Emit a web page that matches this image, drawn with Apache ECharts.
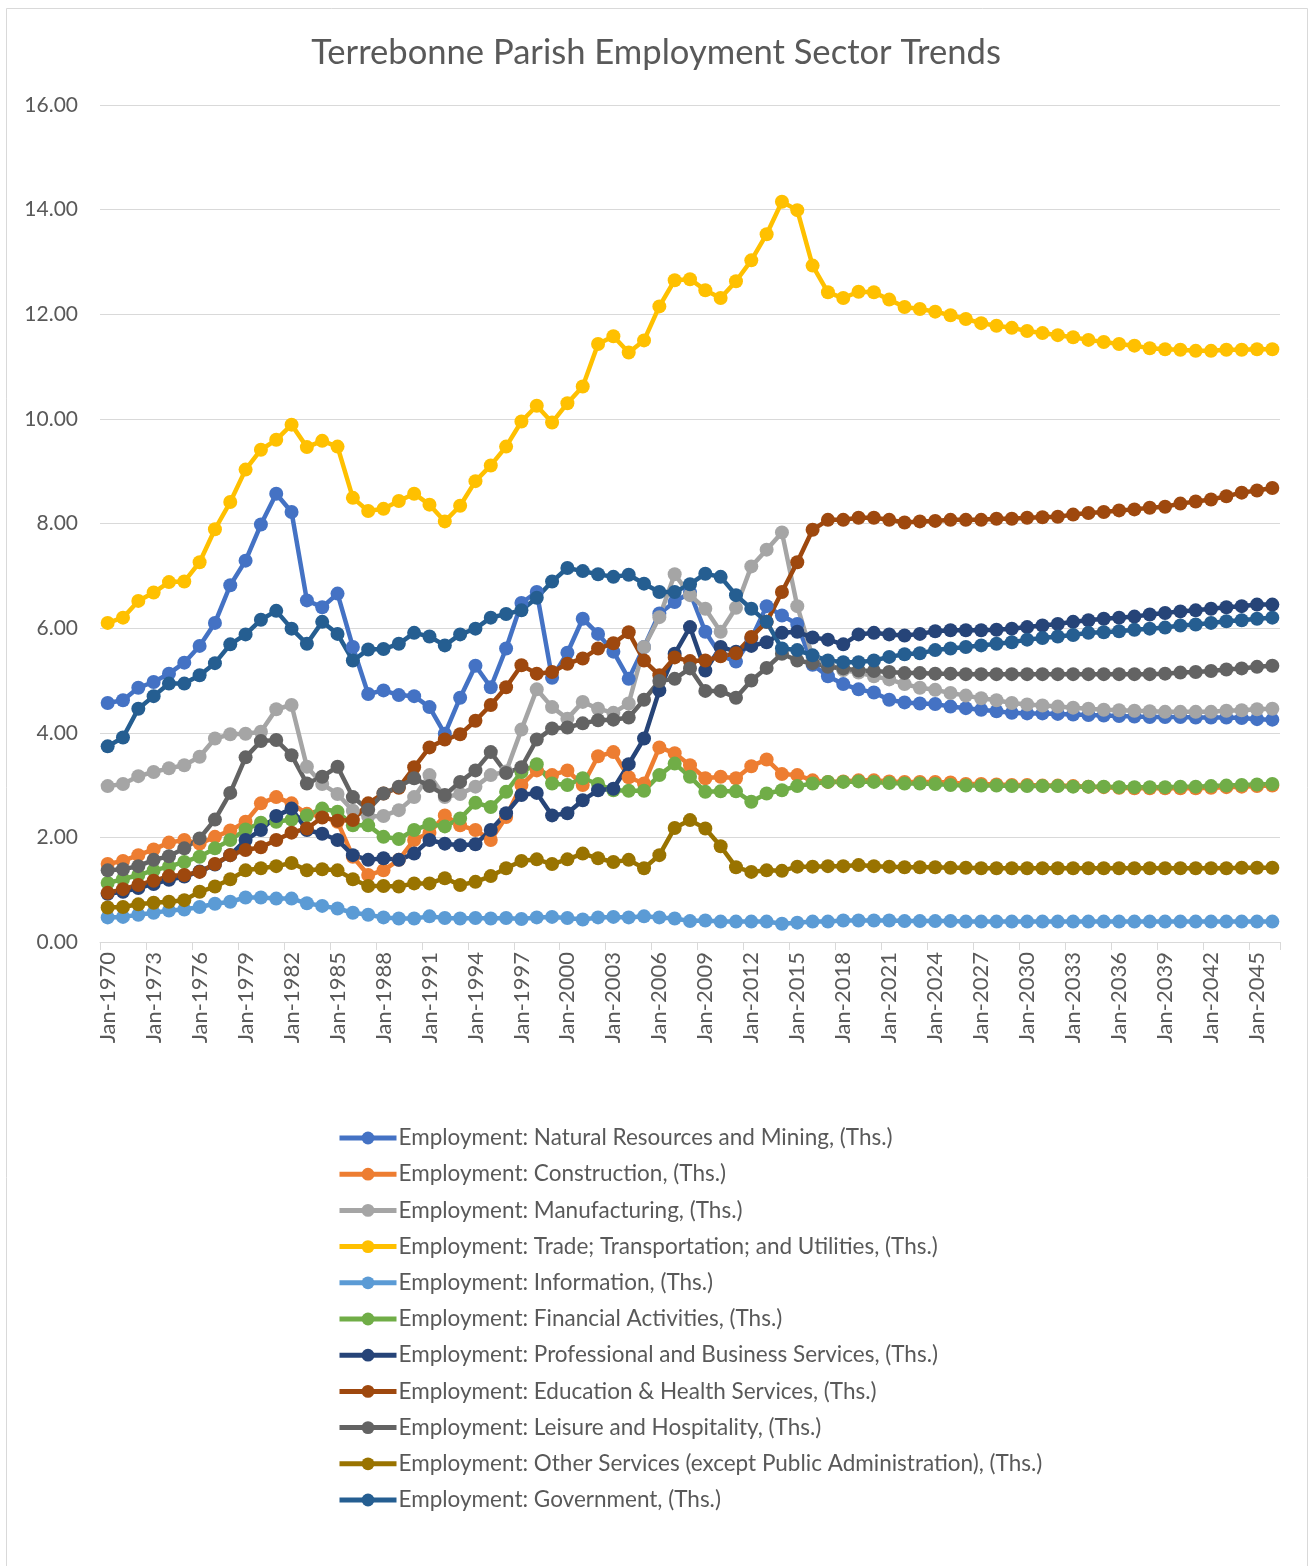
<!DOCTYPE html>
<html>
<head>
<meta charset="utf-8">
<script src="https://cdn.jsdelivr.net/npm/echarts@6/dist/echarts.min.js"></script>
<style>
html,body{margin:0;padding:0;background:#fff;}
#chart{width:1312px;height:1566px;}
</style>
</head>
<body>
<div id="chart"></div>
<script>
const categories = ['Jan-1970','Jan-1971','Jan-1972','Jan-1973','Jan-1974','Jan-1975','Jan-1976','Jan-1977','Jan-1978','Jan-1979',
'Jan-1980','Jan-1981','Jan-1982','Jan-1983','Jan-1984','Jan-1985','Jan-1986','Jan-1987','Jan-1988','Jan-1989',
'Jan-1990','Jan-1991','Jan-1992','Jan-1993','Jan-1994','Jan-1995','Jan-1996','Jan-1997','Jan-1998','Jan-1999',
'Jan-2000','Jan-2001','Jan-2002','Jan-2003','Jan-2004','Jan-2005','Jan-2006','Jan-2007','Jan-2008','Jan-2009',
'Jan-2010','Jan-2011','Jan-2012','Jan-2013','Jan-2014','Jan-2015','Jan-2016','Jan-2017','Jan-2018','Jan-2019',
'Jan-2020','Jan-2021','Jan-2022','Jan-2023','Jan-2024','Jan-2025','Jan-2026','Jan-2027','Jan-2028','Jan-2029',
'Jan-2030','Jan-2031','Jan-2032','Jan-2033','Jan-2034','Jan-2035','Jan-2036','Jan-2037','Jan-2038','Jan-2039',
'Jan-2040','Jan-2041','Jan-2042','Jan-2043','Jan-2044','Jan-2045','Jan-2046'];

const naturalResources = [4.57,4.62,4.86,4.97,5.13,5.34,5.66,6.10,6.82,7.29,
7.98,8.57,8.22,6.53,6.40,6.66,5.64,4.74,4.81,4.72,
4.70,4.49,3.98,4.67,5.28,4.87,5.61,6.48,6.69,5.05,
5.53,6.18,5.89,5.55,5.03,5.64,6.28,6.50,6.68,5.93,
5.48,5.36,5.80,6.42,6.24,6.08,5.30,5.08,4.93,4.83,
4.77,4.63,4.58,4.56,4.55,4.50,4.47,4.44,4.41,4.38,
4.37,4.37,4.36,4.35,4.34,4.33,4.32,4.31,4.30,4.30,
4.30,4.29,4.29,4.29,4.28,4.26,4.25];

const construction = [1.49,1.55,1.66,1.77,1.90,1.95,1.88,2.01,2.13,2.30,
2.65,2.77,2.65,2.45,2.40,2.30,1.63,1.28,1.37,1.57,
1.95,2.09,2.42,2.23,2.14,1.95,2.39,3.00,3.28,3.19,
3.28,3.00,3.55,3.63,3.15,3.03,3.72,3.61,3.38,3.13,
3.16,3.13,3.36,3.49,3.21,3.19,3.09,3.06,3.07,3.09,
3.09,3.07,3.06,3.06,3.06,3.05,3.02,3.02,3.01,3.00,
3.00,2.99,2.99,2.98,2.97,2.96,2.95,2.94,2.94,2.94,
2.94,2.94,2.95,2.96,2.97,2.98,2.99];

const manufacturing = [2.98,3.02,3.17,3.25,3.32,3.38,3.54,3.89,3.97,3.98,
4.02,4.45,4.53,3.35,3.02,2.83,2.51,2.40,2.41,2.52,
2.77,3.19,2.77,2.83,2.97,3.19,3.26,4.06,4.83,4.49,
4.27,4.59,4.46,4.38,4.56,5.64,6.21,7.03,6.63,6.37,
5.93,6.39,7.18,7.50,7.83,6.42,5.45,5.30,5.20,5.15,
5.08,5.02,4.93,4.86,4.82,4.76,4.71,4.66,4.62,4.57,
4.54,4.52,4.50,4.48,4.46,4.44,4.43,4.42,4.41,4.40,
4.40,4.40,4.40,4.42,4.43,4.45,4.46];

const trade = [6.10,6.20,6.52,6.68,6.88,6.89,7.26,7.89,8.41,9.03,
9.41,9.60,9.89,9.46,9.58,9.47,8.49,8.24,8.28,8.43,
8.57,8.36,8.04,8.34,8.81,9.11,9.47,9.95,10.25,9.93,
10.30,10.62,11.43,11.58,11.27,11.50,12.15,12.65,12.67,12.46,
12.31,12.63,13.03,13.53,14.15,13.99,12.93,12.42,12.31,12.43,
12.42,12.28,12.14,12.10,12.05,11.98,11.91,11.83,11.78,11.74,
11.68,11.64,11.60,11.56,11.51,11.47,11.43,11.40,11.35,11.33,
11.32,11.30,11.30,11.32,11.32,11.33,11.33];

const information = [0.47,0.48,0.52,0.56,0.60,0.62,0.67,0.73,0.77,0.85,
0.85,0.83,0.83,0.74,0.69,0.64,0.56,0.52,0.47,0.45,
0.45,0.49,0.46,0.45,0.46,0.45,0.46,0.44,0.47,0.48,
0.46,0.43,0.47,0.48,0.47,0.49,0.47,0.45,0.40,0.41,
0.39,0.39,0.39,0.39,0.35,0.37,0.39,0.39,0.41,0.41,
0.41,0.41,0.40,0.40,0.40,0.40,0.39,0.39,0.39,0.39,
0.39,0.39,0.39,0.39,0.39,0.39,0.39,0.39,0.39,0.39,
0.39,0.39,0.39,0.39,0.39,0.39,0.39];

const financial = [1.13,1.20,1.28,1.37,1.44,1.53,1.63,1.79,1.95,2.15,
2.28,2.30,2.34,2.42,2.55,2.49,2.23,2.23,2.01,1.97,
2.14,2.25,2.21,2.36,2.66,2.58,2.87,3.25,3.40,3.03,
3.00,3.13,3.02,2.90,2.89,2.89,3.19,3.41,3.16,2.87,
2.88,2.88,2.68,2.84,2.90,2.98,3.03,3.06,3.06,3.07,
3.06,3.04,3.03,3.03,3.02,3.00,2.99,2.99,2.99,2.98,
2.98,2.98,2.98,2.97,2.97,2.97,2.96,2.96,2.96,2.96,
2.97,2.97,2.98,2.99,3.00,3.01,3.02];

const professional = [0.92,0.96,1.03,1.11,1.19,1.25,1.35,1.48,1.66,1.95,
2.14,2.41,2.55,2.14,2.07,1.95,1.66,1.57,1.60,1.57,
1.69,1.95,1.88,1.85,1.87,2.14,2.46,2.81,2.85,2.42,
2.46,2.71,2.90,2.93,3.40,3.89,4.81,5.51,6.02,5.19,
5.64,5.55,5.66,5.73,5.91,5.93,5.82,5.78,5.69,5.88,
5.91,5.88,5.86,5.89,5.94,5.96,5.96,5.96,5.97,5.99,
6.02,6.05,6.08,6.12,6.15,6.18,6.20,6.22,6.26,6.29,
6.32,6.34,6.37,6.40,6.42,6.45,6.45];

const education = [0.94,1.01,1.09,1.17,1.26,1.28,1.34,1.49,1.66,1.76,
1.81,1.95,2.09,2.17,2.38,2.32,2.33,2.65,2.84,2.95,
3.34,3.72,3.87,3.97,4.23,4.53,4.87,5.29,5.13,5.16,
5.32,5.42,5.61,5.71,5.92,5.38,5.10,5.44,5.37,5.38,
5.46,5.52,5.83,6.12,6.69,7.26,7.88,8.07,8.07,8.11,
8.11,8.07,8.02,8.04,8.05,8.07,8.07,8.07,8.09,8.09,
8.11,8.12,8.13,8.17,8.20,8.22,8.25,8.27,8.30,8.32,
8.38,8.42,8.46,8.52,8.59,8.63,8.68];

const leisure = [1.37,1.39,1.45,1.57,1.64,1.79,1.98,2.34,2.85,3.53,
3.84,3.86,3.57,3.03,3.16,3.35,2.77,2.53,2.84,2.97,
3.13,2.98,2.81,3.06,3.28,3.63,3.23,3.34,3.87,4.08,
4.10,4.18,4.24,4.25,4.29,4.63,4.99,5.03,5.23,4.80,
4.80,4.67,5.00,5.24,5.51,5.38,5.33,5.26,5.23,5.19,
5.18,5.16,5.14,5.14,5.13,5.13,5.12,5.12,5.12,5.12,
5.12,5.12,5.12,5.12,5.12,5.12,5.12,5.12,5.12,5.13,
5.15,5.16,5.18,5.21,5.23,5.26,5.28];

const otherServices = [0.66,0.67,0.72,0.75,0.77,0.80,0.96,1.06,1.20,1.37,
1.41,1.45,1.51,1.37,1.39,1.37,1.20,1.07,1.07,1.06,
1.12,1.12,1.22,1.09,1.15,1.26,1.41,1.55,1.58,1.49,
1.58,1.69,1.60,1.53,1.57,1.41,1.66,2.18,2.33,2.17,
1.83,1.43,1.34,1.37,1.36,1.44,1.44,1.45,1.45,1.47,
1.45,1.44,1.43,1.43,1.43,1.42,1.42,1.41,1.41,1.41,
1.41,1.41,1.41,1.41,1.41,1.41,1.41,1.41,1.41,1.41,
1.41,1.41,1.41,1.41,1.42,1.42,1.42];

const government = [3.74,3.91,4.46,4.70,4.94,4.94,5.10,5.33,5.69,5.88,
6.16,6.33,5.99,5.70,6.12,5.89,5.38,5.59,5.60,5.70,
5.91,5.84,5.67,5.88,5.99,6.20,6.27,6.34,6.58,6.89,
7.15,7.09,7.03,6.98,7.02,6.85,6.69,6.69,6.84,7.04,
6.98,6.63,6.37,6.12,5.61,5.58,5.48,5.38,5.35,5.35,
5.38,5.45,5.50,5.52,5.58,5.61,5.64,5.67,5.70,5.73,
5.78,5.81,5.84,5.87,5.91,5.92,5.94,5.97,5.99,6.01,
6.05,6.07,6.10,6.13,6.15,6.18,6.20];

const seriesNames = [
  'Employment: Natural Resources and Mining, (Ths.)',
  'Employment: Construction, (Ths.)',
  'Employment: Manufacturing, (Ths.)',
  'Employment: Trade; Transportation; and Utilities, (Ths.)',
  'Employment: Information, (Ths.)',
  'Employment: Financial Activities, (Ths.)',
  'Employment: Professional and Business Services, (Ths.)',
  'Employment: Education & Health Services, (Ths.)',
  'Employment: Leisure and Hospitality, (Ths.)',
  'Employment: Other Services (except Public Administration), (Ths.)',
  'Employment: Government, (Ths.)'
];
const seriesColors = ['#4472C4','#ED7D31','#A5A5A5','#FFC000','#5B9BD5','#70AD47','#264478','#9E480E','#636363','#997300','#255E91'];
const seriesData = [naturalResources, construction, manufacturing, trade, information, financial, professional, education, leisure, otherServices, government];

const FONT = 'Lato, "Open Sans", sans-serif';
const TXT = '#595959';

const chart = echarts.init(document.getElementById('chart'), null, {renderer: 'canvas'});
chart.setOption({
  animation: false,
  backgroundColor: '#ffffff',
  color: seriesColors,
  title: {
    text: 'Terrebonne Parish Employment Sector Trends',
    left: 'center',
    top: 30,
    textStyle: {fontFamily: FONT, fontSize: 34.6, fontWeight: 'normal', color: TXT}
  },
  graphic: [{
    type: 'rect',
    shape: {x: 6.5, y: 8.5, width: 1301, height: 1580},
    style: {fill: 'none', stroke: '#D9D9D9', lineWidth: 1},
    silent: true
  }],
  grid: {left: 100, right: 32, top: 105, bottom: 624, containLabel: false},
  xAxis: {
    type: 'category',
    data: categories,
    boundaryGap: true,
    axisLine: {show: true, lineStyle: {color: '#D9D9D9', width: 1}},
    axisTick: {show: true, interval: 2, length: 8, lineStyle: {color: '#D9D9D9'}},
    axisLabel: {interval: 2, rotate: 90, margin: 10, color: TXT, fontFamily: FONT, fontSize: 22}
  },
  yAxis: {
    type: 'value',
    min: 0, max: 16, interval: 2,
    axisLine: {show: false},
    axisTick: {show: false},
    splitLine: {lineStyle: {color: '#D9D9D9', width: 1}},
    axisLabel: {margin: 22, color: TXT, fontFamily: FONT, fontSize: 21, formatter: v => v.toFixed(2)}
  },
  legend: {
    orient: 'vertical',
    left: 337,
    top: 1126,
    padding: 0,
    itemWidth: 57,
    itemHeight: 16,
    itemGap: 12.2,
    data: seriesNames,
    lineStyle: {width: 5},
    textStyle: {fontFamily: FONT, fontSize: 22.5, color: TXT, lineHeight: 24, padding: [0,0,0,-3]}
  },
  series: seriesNames.map((name, i) => ({
    name: name,
    type: 'line',
    data: seriesData[i],
    symbol: 'circle',
    symbolSize: 14,
    showAllSymbol: true,
    lineStyle: {width: 4.5, color: seriesColors[i]},
    itemStyle: {color: seriesColors[i]},
    emphasis: {disabled: true}
  }))
});
</script>
</body>
</html>
